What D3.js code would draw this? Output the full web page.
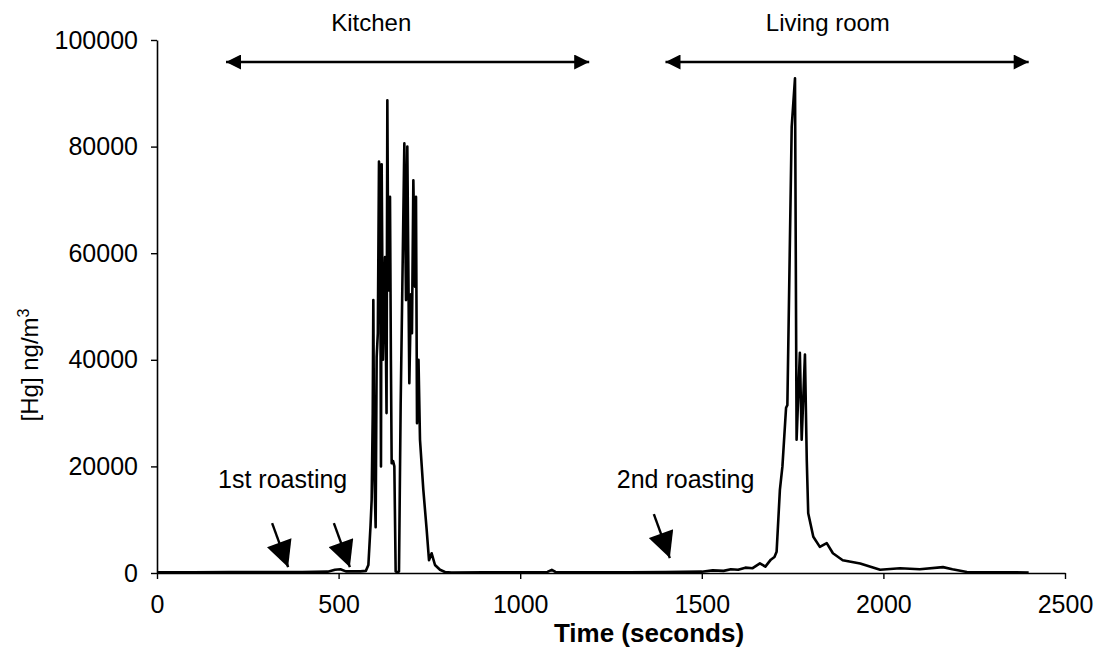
<!DOCTYPE html>
<html>
<head>
<meta charset="utf-8">
<script src="https://cdn.jsdelivr.net/npm/d3@7"></script>
<style>
  body { margin: 0; background: #fff; }
  svg { font-family: "Liberation Sans", Arial, sans-serif; }
</style>
</head>
<body>
<div id="chart"></div>
<script>
// mercury reading over time (seconds, ng/m3)
var times = [0, 100, 200, 300, 400, 470, 490, 505, 520, 560, 575, 582, 588, 591, 594, 595.6, 598, 602, 604.8, 608,
  611.2, 614, 616.7, 618.6, 622, 627.8, 632, 634.2, 636.9, 641.5, 644, 646.1, 650, 653.5, 657.1, 662, 666.3, 670.9,
  675.5, 681, 685.6, 689.2, 694.7, 699.3, 702, 705.8, 710.4, 713.1, 715.9, 720, 724.1, 733.3, 742.5, 748.9, 756.2,
  765.4, 779.2, 793, 811, 900, 1000, 1075, 1087, 1097, 1200, 1300, 1400, 1500, 1530, 1560, 1580, 1600, 1620, 1640,
  1660, 1675, 1690, 1700, 1706, 1715, 1722, 1732, 1735.6, 1747.5, 1756.6, 1761, 1770, 1775, 1784, 1789, 1793,
  1807, 1825, 1844, 1861, 1888, 1936, 1991, 2046, 2100, 2164, 2190, 2230, 2300, 2400];
var hg = [150, 150, 200, 200, 200, 250, 600, 700, 300, 300, 400, 1500, 9000, 13700, 30000, 51200, 20000, 8600, 40500, 45000,
  77200, 75000, 20000, 76700, 40000, 59300, 30000, 88700, 53000, 70600, 40000, 20600, 21000, 20000, 300, 200, 300, 31800,
  53700, 80600, 51200, 80000, 35600, 52300, 45000, 73700, 53700, 70600, 28100, 40000, 25000, 15600, 8100, 2400, 3700,
  1500, 600, 200, 100, 150, 150, 200, 600, 200, 150, 150, 200, 250, 500, 400, 700, 600, 1000, 900,
  1800, 1200, 2500, 3000, 4000, 15600, 20000, 31000, 31500, 83700, 92800, 25000, 41300, 25000, 41000, 21200, 11200,
  6800, 4900, 5600, 3700, 2400, 1800, 600, 900, 700, 1100, 700, 200, 150, 100];

var xTicks = [0, 500, 1000, 1500, 2000, 2500];
var yTicks = [0, 20000, 40000, 60000, 80000, 100000];

// room spans along the top (seconds) and where their names sit
var rooms = ["Kitchen", "Living room"];
var roomStart = [190, 1400];
var roomEnd = [1190, 2400];
var roomLabelAt = [590, 1847];

// roasting notes: label start time / level, arrow tips (time, level)
var roastLabels = ["1st roasting", "2nd roasting"];
var roastLabelT = [168, 1266];
var roastLabelV = [15900, 15900];
var arrowT = [361, 531, 1412];
var arrowV = [1100, 1100, 2800];

var margin = { top: 40, right: 51, bottom: 77, left: 157 };
var width = 1116 - margin.left - margin.right;
var height = 650 - margin.top - margin.bottom;

var svg = d3.select("#chart").append("svg")
    .attr("width", 1116)
    .attr("height", 650);

var g = svg.append("g")
    .attr("transform", "translate(" + margin.left + "," + margin.top + ")");

var xscale = d3.scaleLinear().domain([0, 2500]).range([0, width]);
var yscale = d3.scaleLinear().domain([0, 100000]).range([height, 0]);

var defs = svg.append("defs");
defs.append("marker")
    .attr("id", "head")
    .attr("viewBox", "0 0 10 10")
    .attr("refX", 10).attr("refY", 5)
    .attr("markerUnits", "userSpaceOnUse")
    .attr("markerWidth", 17).attr("markerHeight", 15)
    .attr("orient", "auto-start-reverse")
    .append("path")
    .attr("d", "M0,0 L10,5 L0,10 Z")
    .attr("fill", "#000");

defs.append("marker")
    .attr("id", "bighead")
    .attr("viewBox", "0 0 10 10")
    .attr("refX", 10).attr("refY", 5)
    .attr("markerUnits", "userSpaceOnUse")
    .attr("markerWidth", 27).attr("markerHeight", 26)
    .attr("orient", "auto")
    .append("path")
    .attr("d", "M0,0 L10,5 L0,10 Z")
    .attr("fill", "#000");

// the trace
var pts = times.map(function(t, i) { return [t, hg[i]]; });
var line = d3.line()
    .x(function(d) { return xscale(d[0]); })
    .y(function(d) { return yscale(d[1]); });

g.append("path")
    .datum(pts)
    .attr("fill", "none")
    .attr("stroke", "#000")
    .attr("stroke-width", 2.6)
    .attr("stroke-linejoin", "round")
    .attr("d", line);

// axes
var xaxis = d3.axisBottom(xscale).tickValues(xTicks).tickSize(6).tickPadding(16).tickSizeOuter(0)
    .tickFormat(d3.format("d"));
var yaxis = d3.axisLeft(yscale).tickValues(yTicks).tickSize(6).tickPadding(13).tickSizeOuter(0)
    .tickFormat(d3.format("d"));

var gx = g.append("g")
    .attr("transform", "translate(0," + height + ")")
    .call(xaxis);
var gy = g.append("g").call(yaxis);

[gx, gy].forEach(function(a) {
  a.select(".domain").attr("stroke", "#000").attr("stroke-width", 1.6);
  a.selectAll(".tick line").attr("stroke", "#000").attr("stroke-width", 1.4);
  a.selectAll(".tick text")
      .attr("font-family", "'Liberation Sans', Arial, sans-serif")
      .attr("font-size", "25px")
      .attr("fill", "#000");
});

// axis titles
g.append("text")
    .attr("x", 492)
    .attr("y", height + 69)
    .attr("text-anchor", "middle")
    .attr("font-size", "26px")
    .attr("font-weight", "bold")
    .text("Time (seconds)");

var ylab = svg.append("text")
    .attr("transform", "translate(38,365) rotate(-90)")
    .attr("text-anchor", "middle")
    .attr("font-size", "24px");
ylab.append("tspan").text("[Hg] ng/m");
ylab.append("tspan").attr("dy", "-0.55em").attr("font-size", "16px").text("3");

// room spans
rooms.forEach(function(r, i) {
  g.append("line")
      .attr("x1", xscale(roomStart[i]))
      .attr("x2", xscale(roomEnd[i]))
      .attr("y1", 22).attr("y2", 22)
      .attr("stroke", "#000")
      .attr("stroke-width", 2.4)
      .attr("marker-start", "url(#head)")
      .attr("marker-end", "url(#head)");
  g.append("text")
      .attr("x", xscale(roomLabelAt[i]))
      .attr("y", -9)
      .attr("text-anchor", "middle")
      .attr("font-size", "24px")
      .text(r);
});

// roasting notes
roastLabels.forEach(function(r, i) {
  g.append("text")
      .attr("x", xscale(roastLabelT[i]))
      .attr("y", yscale(roastLabelV[i]))
      .attr("font-size", "25px")
      .text(r);
});

arrowT.forEach(function(t, i) {
  var tx = xscale(t), ty = yscale(arrowV[i]);
  g.append("line")
      .attr("x1", tx - 16).attr("y1", ty - 44)
      .attr("x2", tx).attr("y2", ty)
      .attr("stroke", "#000")
      .attr("stroke-width", 2.4)
      .attr("marker-end", "url(#bighead)");
});
</script>
</body>
</html>
